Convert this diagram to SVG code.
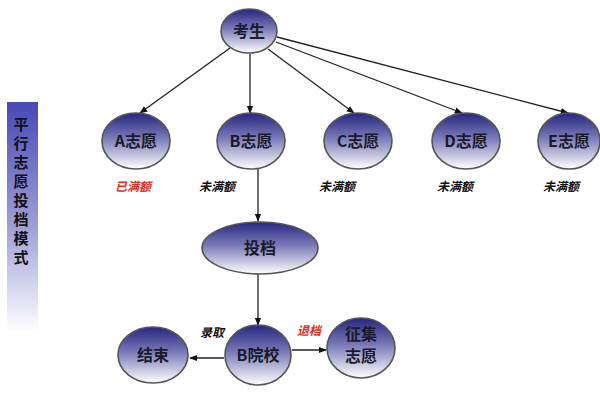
<svg xmlns="http://www.w3.org/2000/svg" width="600" height="400" viewBox="0 0 600 400">
<defs>
<linearGradient id="ng" x1="0" y1="0" x2="0" y2="1">
<stop offset="0" stop-color="#262680"/>
<stop offset="0.45" stop-color="#7a7ab8"/>
<stop offset="1" stop-color="#ffffff"/>
</linearGradient>
<linearGradient id="bar" x1="0" y1="0" x2="0" y2="1">
<stop offset="0" stop-color="#4848b8"/>
<stop offset="0.55" stop-color="#a0a0d8"/>
<stop offset="1" stop-color="#ffffff"/>
</linearGradient>
<marker id="ar" viewBox="0 0 10 10" refX="9" refY="5" markerWidth="8" markerHeight="8" orient="auto" markerUnits="userSpaceOnUse">
<path d="M0,1 L10,5 L0,9 z" fill="#111"/>
</marker>
<style>
.n{fill:url(#ng);stroke:#555;stroke-width:1.6}
.t{font-family:"Noto Sans CJK SC","Liberation Sans",sans-serif;font-size:16px;font-weight:bold;fill:#1a1a2a;text-anchor:middle}
.c{stroke:#222;stroke-width:1.3;fill:none;marker-end:url(#ar)}
.l{font-family:"Noto Sans CJK SC","Liberation Sans",sans-serif;font-size:12px;font-weight:bold;font-style:italic;text-anchor:middle}
.k{fill:#111}
.r{fill:#e0301e}
.v{font-family:"Noto Sans CJK SC","Liberation Sans",sans-serif;font-size:15px;font-weight:bold;fill:#111;text-anchor:middle}
</style>
</defs>
<rect x="7" y="102" width="31" height="230" fill="url(#bar)"/>
<g id="title">
<text class="v" x="21" y="130">平</text>
<text class="v" x="21" y="149">行</text>
<text class="v" x="21" y="168">志</text>
<text class="v" x="21" y="187">愿</text>
<text class="v" x="21" y="206">投</text>
<text class="v" x="21" y="225">档</text>
<text class="v" x="21" y="244">模</text>
<text class="v" x="21" y="263">式</text>
</g>
<g id="connectors">
<path class="c" d="M230,48 L140,113"/>
<path class="c" d="M250,54 L250,113"/>
<path class="c" d="M268,49 L354,113"/>
<path class="c" d="M276,42 L462,113"/>
<path class="c" d="M277,37 L568,113"/>
<path class="c" d="M258,168 L258,221"/>
<path class="c" d="M258,274 L258,325"/>
<path class="c" d="M224,358 L190,358"/>
<path class="c" d="M292,350 L326,350"/>
</g>
<g id="n_ks"><ellipse class="n" cx="249" cy="31" rx="28" ry="22"/><text class="t" x="249" y="37">考生</text></g>
<g id="n_a"><ellipse class="n" cx="136" cy="141" rx="34" ry="28"/><text class="t" x="136" y="147">A志愿</text></g>
<g id="n_b"><ellipse class="n" cx="251" cy="141" rx="34" ry="28"/><text class="t" x="251" y="147">B志愿</text></g>
<g id="n_c"><ellipse class="n" cx="358" cy="141" rx="34" ry="28"/><text class="t" x="358" y="147">C志愿</text></g>
<g id="n_d"><ellipse class="n" cx="466" cy="141" rx="34" ry="28"/><text class="t" x="466" y="147">D志愿</text></g>
<g id="n_e"><ellipse class="n" cx="569" cy="141" rx="31" ry="28"/><text class="t" x="569" y="147">E志愿</text></g>
<g id="labels">
<text class="l r" x="133" y="191">已满额</text>
<text class="l k" x="217" y="191">未满额</text>
<text class="l k" x="337" y="191">未满额</text>
<text class="l k" x="455" y="191">未满额</text>
<text class="l k" x="561" y="191">未满额</text>
<text class="l k" x="212" y="337">录取</text>
<text class="l r" x="309" y="335">退档</text>
</g>
<g id="n_td"><ellipse class="n" cx="260" cy="248" rx="58" ry="26"/><text class="t" x="260" y="254">投档</text></g>
<g id="n_bx"><ellipse class="n" cx="258" cy="355" rx="33" ry="30"/><text class="t" x="258" y="361">B院校</text></g>
<g id="n_js"><ellipse class="n" cx="153" cy="355" rx="35" ry="28"/><text class="t" x="153" y="361">结束</text></g>
<g id="n_zj"><ellipse class="n" cx="361" cy="348" rx="34" ry="30"/><text class="t" x="361" y="340"><tspan x="361">征集</tspan><tspan x="361" dy="22">志愿</tspan></text></g>
</svg>
